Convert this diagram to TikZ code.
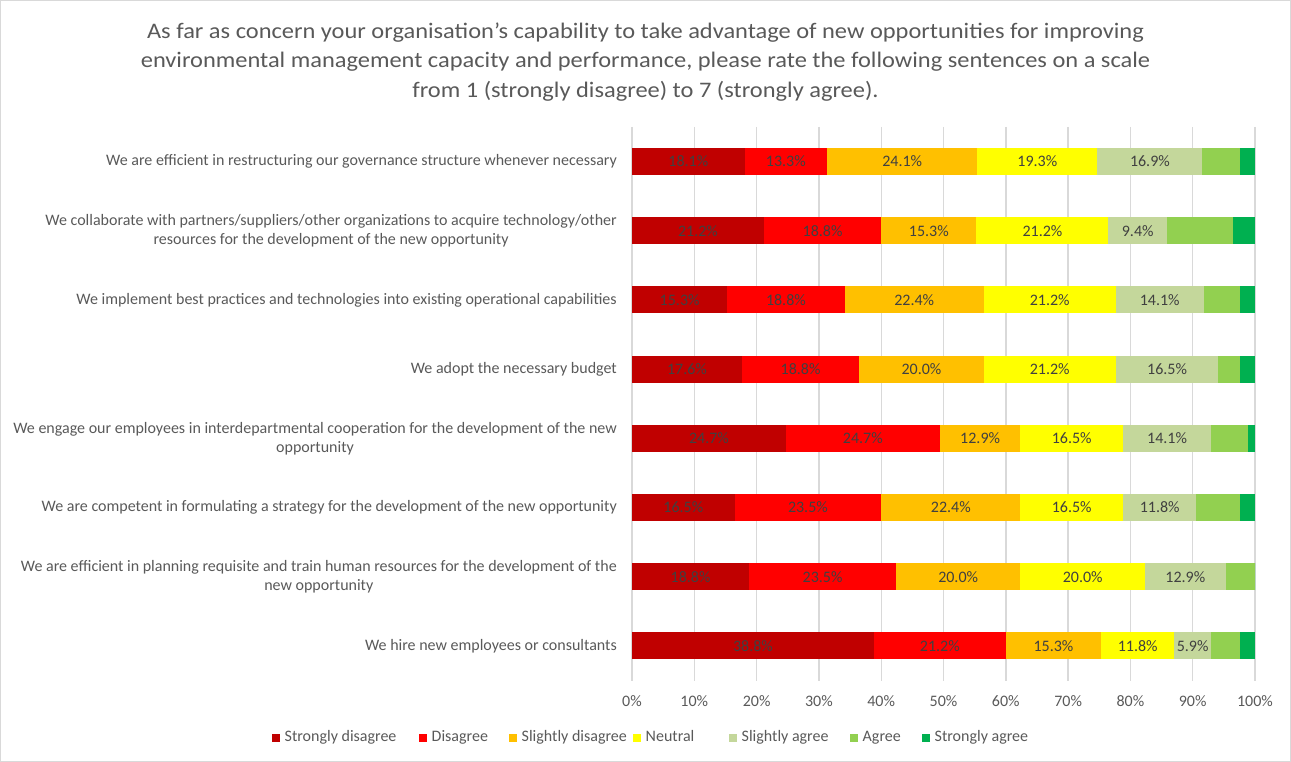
\documentclass[tikz,border=0pt]{standalone}
\usepackage{fontspec}
\setmainfont{Carlito}
\newfontfamily\titlefont[FakeStretch=1.1]{Carlito}
\definecolor{sdis}{HTML}{C00000}
\definecolor{dis}{HTML}{FF0000}
\definecolor{sldis}{HTML}{FFC000}
\definecolor{neu}{HTML}{FFFF00}
\definecolor{slag}{HTML}{C4D79B}
\definecolor{agr}{HTML}{92D050}
\definecolor{sagr}{HTML}{00B050}
\definecolor{txt}{HTML}{595959}
\definecolor{lbl}{HTML}{404040}
\definecolor{gridc}{HTML}{D9D9D9}
\tikzset{
  gridline/.style={draw=gridc, line width=1.4pt},
  ticklbl/.style={text=txt, font=\fontsize{16}{19}\selectfont, inner sep=0pt},
  catlbl/.style={text=txt, font=\fontsize{16}{19}\selectfont, anchor=east, align=center, inner sep=0pt},
  barlbl/.style={text=lbl, font=\fontsize{16}{19}\selectfont, inner sep=0pt},
  legsq/.style={minimum size=8pt, inner sep=0pt},
  leglbl/.style={text=txt, font=\fontsize{16}{19}\selectfont, anchor=west, inner sep=0pt, text height=11pt, text depth=3.5pt},
}
\newcommand\barrow[3]{% #1 row id, #2 y centre, #3 list count/colour/label ; total in \tot
  \xdef\acc{0}%
  \foreach \n/\c/\l [count=\k] in {#3} {
    \pgfmathsetmacro\xa{632+(\acc/\tot)*623}
    \pgfmathsetmacro\xb{632+((\acc+\n)/\tot)*623}
    \fill[\c] (\xa,#2-13.5) rectangle (\xb,#2+13.5);
    \ifnum\k<6 \node[barlbl] (b#1-\k) at ({(\xa+\xb)/2},#2) {\l\%};\fi
    \pgfmathsetmacro\newacc{\acc+\n}
    \xdef\acc{\newacc}
  }%
}
\begin{document}
\begin{tikzpicture}[x=1pt,y=-1pt]
\useasboundingbox (0,0) rectangle (1291,762);
\draw[gridc, line width=1pt] (0.5,0.5) rectangle (1290.5,761.5);
\node[text=txt, align=center, font=\titlefont\fontsize{22.2}{29.5}\selectfont, inner sep=0pt] (title) at (645.5,62)
  {As far as concern your organisation’s capability to take advantage of new opportunities for improving\\
   environmental management capacity and performance, please rate the following sentences on a scale\\
   from 1 (strongly disagree) to 7 (strongly agree).};
% grid and ticks
\foreach \i in {0,...,10} {
  \draw[gridline] (632+62.3*\i,127) -- (632+62.3*\i,681);
  \pgfmathtruncatemacro\pc{10*\i}
  \node[ticklbl] (t\i) at (632+62.3*\i,701) {\pc\%};
}
% bars
\def\tot{83}
\barrow{1}{161.5}{15/sdis/18.1,11/dis/13.3,20/sldis/24.1,16/neu/19.3,14/slag/16.9,5/agr/x,2/sagr/x}
\def\tot{85}
\barrow{2}{230.7}{18/sdis/21.2,16/dis/18.8,13/sldis/15.3,18/neu/21.2,8/slag/9.4,9/agr/x,3/sagr/x}
\barrow{3}{299.9}{13/sdis/15.3,16/dis/18.8,19/sldis/22.4,18/neu/21.2,12/slag/14.1,5/agr/x,2/sagr/x}
\barrow{4}{369.1}{15/sdis/17.6,16/dis/18.8,17/sldis/20.0,18/neu/21.2,14/slag/16.5,3/agr/x,2/sagr/x}
\barrow{5}{438.3}{21/sdis/24.7,21/dis/24.7,11/sldis/12.9,14/neu/16.5,12/slag/14.1,5/agr/x,1/sagr/x}
\barrow{6}{507.5}{14/sdis/16.5,20/dis/23.5,19/sldis/22.4,14/neu/16.5,10/slag/11.8,6/agr/x,2/sagr/x}
\barrow{7}{576.7}{16/sdis/18.8,20/dis/23.5,17/sldis/20.0,17/neu/20.0,11/slag/12.9,4/agr/x,0/sagr/x}
\barrow{8}{645.9}{33/sdis/38.8,18/dis/21.2,13/sldis/15.3,10/neu/11.8,5/slag/5.9,4/agr/x,2/sagr/x}
% category labels
\node[catlbl] (c1) at (617,161.5) {We are efficient in restructuring our governance structure whenever necessary};
\node[catlbl] (c2) at (617,230.7) {We collaborate with partners/suppliers/other organizations to acquire technology/other\\resources for the development of the new opportunity};
\node[catlbl] (c3) at (617,299.9) {We implement best practices and technologies into existing operational capabilities};
\node[catlbl] (c4) at (617,369.1) {We adopt the necessary budget};
\node[catlbl] (c5) at (617,438.3) {We engage our employees in interdepartmental cooperation for the development of the new\\opportunity};
\node[catlbl] (c6) at (617,507.5) {We are competent in formulating a strategy for the development of the new opportunity};
\node[catlbl] (c7) at (617,576.7) {We are efficient in planning requisite and train human resources for the development of the\\new opportunity};
\node[catlbl] (c8) at (617,645.9) {We hire new employees or consultants};
% legend
\foreach \x/\c/\t [count=\j] in {275.5/sdis/Strongly disagree,422.5/dis/Disagree,512.5/sldis/Slightly disagree,636.5/neu/Neutral,732.5/slag/Slightly agree,853.5/agr/Agree,925.5/sagr/Strongly agree} {
  \node[legsq, fill=\c] (ls\j) at (\x,737.5) {};
  \node[leglbl] (lt\j) at (\x+9,737.5) {\t};
}
\end{tikzpicture}
\end{document}
